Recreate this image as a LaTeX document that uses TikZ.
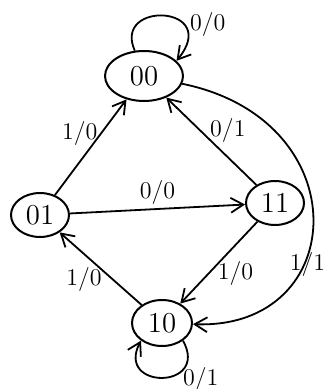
\documentclass[tikz,border=0pt]{standalone}
\usepackage{tikz}
\usetikzlibrary{arrows.meta,shapes.geometric}

\begin{document}
\begin{tikzpicture}[x=0.5pt, y=-0.5pt,
  state/.style={draw, ellipse, line width=1pt, inner sep=0pt, font=\Large,
                minimum width=29pt, minimum height=22pt},
  lbl/.style={font=\large, inner sep=1pt},
  ar/.style={line width=0.9pt, -{Straight Barb[length=2.2mm, width=2.6mm]}}
]
\useasboundingbox (0,0) rectangle (328,389);

\node[state, minimum width=39pt, minimum height=25pt] (s00) at (144,76) {00};
\node[state] (s01) at (40,215) {01};
\node[state] (s11) at (275,203) {11};
\node[state, minimum width=30pt, minimum height=23pt] (s10) at (162,323) {10};

\draw[ar] (s00.110) .. controls (112,0) and (222,5) .. (s00.25)
  node[lbl, pos=0.7, right=2pt] {0/0};
\draw[ar] (s01) -- node[lbl, above left=-3pt, pos=0.55] {1/0} (s00);
\draw[ar] (s11) -- node[lbl, above right=-2pt] {0/1} (s00);
\draw[ar] (s01) -- node[lbl, above=1pt] {0/0} (s11);
\draw[ar] (s11) -- node[lbl, below right=-2pt] {1/0} (s10);
\draw[ar] (s10) -- node[lbl, below left=-2pt] {1/0} (s01);
\draw[ar] (s00) .. controls (360,120) and (350,330) .. (s10)
  node[lbl, pos=0.64, xshift=2pt] {1/1};
\draw[ar] (s10.-40) .. controls (210,390) and (115,390) .. (s10.220)
  node[lbl, pos=0.25, below right=-2pt] {0/1};
\end{tikzpicture}
\end{document}
